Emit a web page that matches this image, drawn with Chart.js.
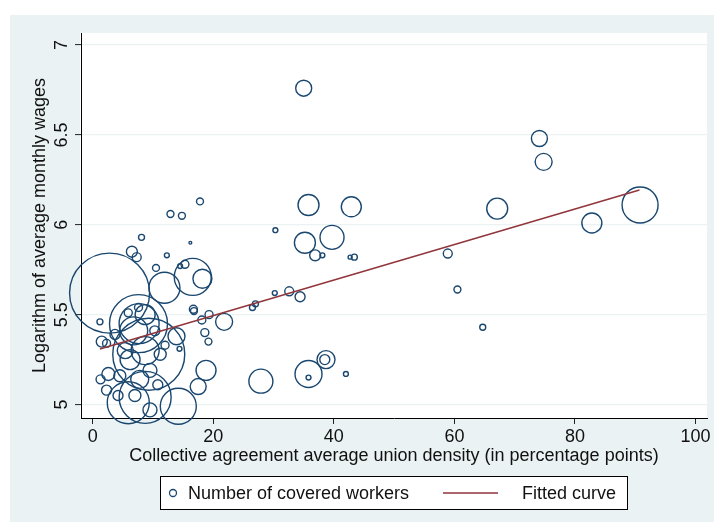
<!DOCTYPE html>
<html>
<head>
<meta charset="utf-8">
<script src="https://cdn.jsdelivr.net/npm/chart.js@4.4.1/dist/chart.umd.min.js"></script>
<style>
  html, body { margin: 0; padding: 0; background: #ffffff; }
  #wrap { width: 714px; height: 525px; }
</style>
</head>
<body>
<div id="wrap"><canvas id="c" width="714" height="525"></canvas></div>
<script>
// ---- Data ----
// Collective agreement average union density (percentage points)
const unionDensity = [
  35.0, 74.1, 74.8, 67.1, 82.8, 90.8, 58.9, 60.5, 64.7, 35.8,
  42.9, 35.2, 39.7, 36.9, 38.1, 30.3, 42.7, 43.4, 17.8, 12.9,
  14.8, 8.1, 16.2, 6.5, 7.3, 12.3, 2.8, 10.5, 11.9, 16.6,
  18.2, 15.3, 14.5, 7.6, 1.2, 26.5, 27.0, 16.7, 16.8, 18.1,
  19.3, 21.8, 18.6, 19.2, 18.8, 17.5, 27.9, 13.9, 14.4, 14.2,
  30.2, 32.6, 34.4, 35.8, 35.8, 38.7, 38.5, 42.0, 7.6, 9.3,
  5.9, 8.7, 1.5, 2.3, 2.6, 1.3, 2.3, 7.7, 6.8, 6.2,
  8.7, 5.4, 7.8, 9.5, 4.5, 11.2, 7.0, 9.5, 3.7, 5.9,
  10.3, 12.0, 4.2, 10.8, 8.7
];
// Logarithm of average monthly wages
const logWages = [
  6.76, 6.48, 6.35, 6.09, 6.01, 6.11, 5.84, 5.64, 5.43, 6.11,
  6.10, 5.90, 5.93, 5.83, 5.83, 5.97, 5.82, 5.82, 6.13, 6.06,
  6.05, 5.93, 5.90, 5.85, 5.82, 5.83, 5.62, 5.76, 5.65, 5.71,
  5.70, 5.78, 5.77, 5.54, 5.46, 5.54, 5.56, 5.53, 5.52, 5.47,
  5.50, 5.46, 5.40, 5.35, 5.19, 5.10, 5.13, 5.38, 5.31, 4.99,
  5.62, 5.63, 5.60, 5.17, 5.15, 5.25, 5.25, 5.17, 5.45, 5.28,
  5.01, 5.04, 5.35, 5.34, 5.17, 5.14, 5.08, 5.45, 5.41, 5.25,
  5.30, 5.30, 5.14, 5.19, 5.16, 5.28, 5.05, 4.97, 5.39, 5.51,
  5.41, 5.33, 5.05, 5.11, 5.50
];
// Number of covered workers (relative weight; bubble area proportional to it)
const coveredWorkers = [
  64, 64, 72, 110, 100, 324, 20, 12, 9, 110,
  100, 110, 144, 30, 6, 6, 4, 9, 12, 12,
  12, 9, 2, 30, 20, 6, 1600, 12, 240, 342,
  90, 16, 6, 16, 9, 9, 9, 16, 12, 16,
  16, 72, 16, 12, 100, 64, 144, 72, 6, 324,
  6, 20, 25, 182, 6, 81, 25, 6, 841, 1296,
  441, 676, 30, 16, 42, 20, 25, 400, 196, 100,
  196, 64, 81, 49, 36, 36, 36, 49, 25, 16,
  25, 16, 25, 25, 100
];
// Fitted curve end points
const fitX = [1.2, 90.7];
const fitY = [5.309, 6.194];
// Axis ticks
const xTicks = [0, 20, 40, 60, 80, 100];
const yTicks = [5, 5.5, 6, 6.5, 7];

const FONT = '"Liberation Sans", Arial, Helvetica, sans-serif';
const NAVY = '#1a476f';
const RED = '#90353b';
const BG = '#eaf2f3';

const bubbles = unionDensity.map((x, i) => ({ x: x, y: logWages[i], r: Math.sqrt(coveredWorkers[i]) }));
const fitLine = fitX.map((x, i) => ({ x: x, y: fitY[i] }));

function zeroPad(s) { s.paddingLeft = 0; s.paddingRight = 0; s.paddingTop = 0; s.paddingBottom = 0; }

const decor = {
  id: 'decor',
  beforeDraw(chart) {
    const ctx = chart.ctx;
    const a = chart.chartArea;
    ctx.save();
    ctx.fillStyle = '#ffffff';
    ctx.fillRect(0, 0, chart.width, chart.height);
    ctx.fillStyle = BG;
    ctx.fillRect(10, 15, chart.width - 10, 507);
    ctx.fillStyle = '#ffffff';
    ctx.fillRect(a.left - 1, a.top, a.right - a.left + 1, a.bottom - a.top);
    ctx.restore();
  },
  afterDraw(chart) {
    const ctx = chart.ctx;
    const ys = chart.scales.y;
    ctx.save();
    // rotated y tick labels
    ctx.fillStyle = '#111';
    ctx.font = '18px ' + FONT;
    ctx.textAlign = 'center';
    ctx.textBaseline = 'alphabetic';
    yTicks.forEach(v => {
      const py = ys.getPixelForValue(v);
      ctx.save();
      ctx.translate(67, py);
      ctx.rotate(-Math.PI / 2);
      ctx.fillText(String(v), 0, 0);
      ctx.restore();
    });
    // legend box
    ctx.fillStyle = '#ffffff';
    ctx.fillRect(160, 476, 467, 34);
    ctx.strokeStyle = '#000';
    ctx.lineWidth = 1;
    ctx.strokeRect(160.5, 476.5, 467, 33);
    const ly = 493;
    ctx.beginPath();
    ctx.arc(173, ly, 3.5, 0, Math.PI * 2);
    ctx.strokeStyle = NAVY;
    ctx.lineWidth = 1.3;
    ctx.stroke();
    ctx.beginPath();
    ctx.moveTo(443, ly);
    ctx.lineTo(498, ly);
    ctx.strokeStyle = RED;
    ctx.lineWidth = 1.5;
    ctx.stroke();
    ctx.fillStyle = '#111';
    ctx.textAlign = 'left';
    ctx.textBaseline = 'middle';
    ctx.fillText('Number of covered workers', 188, ly + 1);
    ctx.fillText('Fitted curve', 522, ly + 1);
    ctx.restore();
  }
};

new Chart(document.getElementById('c'), {
  type: 'bubble',
  data: {
    datasets: [
      {
        type: 'line',
        label: 'Fitted curve',
        data: fitLine,
        borderColor: RED,
        borderWidth: 1.5,
        pointRadius: 0,
        fill: false,
        order: 0
      },
      {
        type: 'bubble',
        label: 'Number of covered workers',
        data: bubbles,
        backgroundColor: 'rgba(0,0,0,0)',
        borderColor: NAVY,
        borderWidth: 1.4,
        clip: false,
        order: 1
      }
    ]
  },
  options: {
    responsive: false,
    animation: false,
    devicePixelRatio: 1,
    layout: { autoPadding: false, padding: { left: 0, top: 33, right: 7, bottom: 55 } },
    plugins: {
      legend: { display: false },
      tooltip: { enabled: false }
    },
    scales: {
      x: {
        type: 'linear',
        min: -1.94,
        max: 101.9,
        afterFit(s) { s.height = 52; zeroPad(s); },
        afterBuildTicks(s) { s.ticks = xTicks.map(v => ({ value: v })); },
        border: { display: true, color: '#000', width: 1 },
        grid: { drawOnChartArea: false, drawTicks: true, tickLength: 6, tickColor: '#222', tickWidth: 1 },
        ticks: { color: '#111', font: { family: FONT, size: 18 }, padding: 2, maxRotation: 0, autoSkip: false },
        title: {
          display: true,
          text: 'Collective agreement average union density (in percentage points)',
          color: '#111',
          font: { family: FONT, size: 18 },
          padding: { top: 0, bottom: 3 }
        }
      },
      y: {
        type: 'linear',
        min: 4.925,
        max: 7.067,
        afterFit(s) { s.width = 81; zeroPad(s); },
        afterBuildTicks(s) { s.ticks = yTicks.map(v => ({ value: v })); },
        border: { display: true, color: '#000', width: 1 },
        grid: { color: BG, lineWidth: 1.2, drawTicks: true, tickLength: 6, tickColor: '#222', tickWidth: 1 },
        ticks: { display: false },
        title: {
          display: true,
          text: 'Logarithm of average monthly wages',
          color: '#111',
          font: { family: FONT, size: 18 },
          padding: { top: 29, bottom: 0 }
        }
      }
    }
  },
  plugins: [decor]
});
</script>
</body>
</html>
